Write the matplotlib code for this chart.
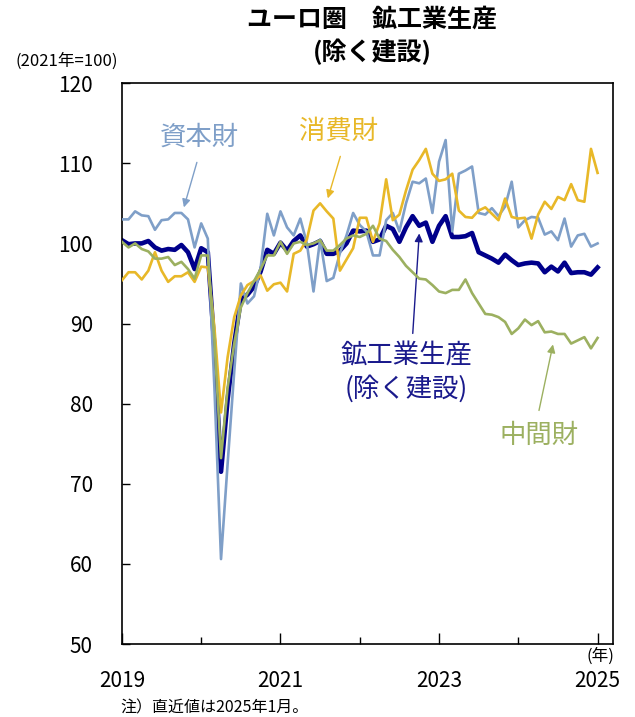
import matplotlib
matplotlib.use("Agg")
import matplotlib.pyplot as plt
import numpy as np

plt.rcParams['font.family'] = ['Noto Sans CJK JP', 'DejaVu Sans']

# 月次データ 2019年1月〜2025年1月 (2021年=100)
months = np.arange(73)

total = [100.4, 99.9, 100.0, 100.0, 100.3, 99.5, 99.1, 99.3, 99.2, 99.8, 98.9, 96.8,
         99.4, 98.9, 87.0, 71.5, 80.5, 87.5, 93.0, 93.6, 94.6, 96.5, 99.2, 98.7,
         100.1, 99.1, 100.3, 101.0, 99.6, 99.9, 100.3, 98.7, 98.7, 99.1, 100.0, 101.6,
         101.5, 101.6, 100.2, 100.5, 102.2, 101.8, 100.2, 102.0, 103.4, 102.2, 102.6, 100.2,
         102.2, 103.4, 100.8, 100.8, 100.9, 101.3, 98.9, 98.5, 98.1, 97.6, 98.6, 97.9,
         97.3, 97.5, 97.6, 97.5, 96.4, 97.1, 96.5, 97.6, 96.3, 96.4, 96.4, 96.1,
         97.0]

capital = [103.0, 103.0, 104.0, 103.5, 103.4, 101.7, 102.9, 103.0, 103.8, 103.8, 103.0, 99.5,
           102.5, 100.6, 82.0, 60.6, 72.5, 84.0, 95.0, 92.5, 93.4, 97.0, 103.7, 101.0,
           104.0, 102.0, 101.0, 103.1, 100.0, 94.0, 100.5, 95.3, 95.7, 98.8, 101.0, 103.8,
           102.3, 101.5, 98.5, 98.5, 102.9, 103.8, 101.5, 105.0, 107.7, 107.5, 108.1, 103.8,
           110.2, 112.9, 101.5, 108.7, 109.1, 109.6, 103.8, 103.6, 104.4, 103.4, 104.6, 107.7,
           102.0, 102.9, 103.3, 103.2, 101.1, 101.5, 100.4, 103.1, 99.6, 101.0, 101.2, 99.6,
           100.0]

consumer = [95.4, 96.4, 96.4, 95.5, 96.6, 98.9, 96.6, 95.2, 95.9, 95.9, 96.4, 95.2,
            97.1, 97.0, 89.5, 78.9, 85.8, 90.8, 93.5, 94.8, 95.3, 96.0, 94.1, 94.9,
            95.1, 94.0, 98.7, 99.1, 100.5, 104.1, 105.0, 104.0, 103.1, 96.6, 98.0, 99.4,
            103.2, 103.2, 100.2, 102.5, 108.0, 102.9, 103.6, 106.6, 109.2, 110.4, 111.8, 108.7,
            107.8, 108.0, 108.7, 104.1, 103.3, 103.2, 104.1, 104.5, 103.7, 102.9, 105.6, 103.3,
            103.1, 103.2, 100.6, 103.6, 105.2, 104.3, 105.8, 105.4, 107.4, 105.4, 105.2, 111.8,
            108.8]

intermediate = [100.2, 99.5, 100.0, 99.3, 99.0, 98.1, 98.1, 98.3, 97.3, 97.7, 96.8, 95.6,
                98.5, 98.5, 88.0, 73.2, 82.0, 87.5, 92.0, 93.8, 95.3, 96.8, 98.5, 98.5,
                100.2, 98.7, 100.0, 100.2, 99.8, 100.0, 100.4, 99.1, 99.1, 99.8, 100.6, 101.0,
                100.8, 101.2, 102.2, 100.6, 100.3, 99.2, 98.3, 97.2, 96.4, 95.6, 95.5, 94.8,
                94.0, 93.8, 94.2, 94.2, 95.5, 93.8, 92.5, 91.2, 91.1, 90.8, 90.2, 88.7,
                89.4, 90.5, 89.8, 90.3, 88.9, 89.0, 88.7, 88.7, 87.5, 87.9, 88.3, 86.9,
                88.2]

year_labels = ['2019', '2021', '2023', '2025']

c_total = '#00008B'
c_cap = '#7F9FC8'
c_con = '#E8B828'
c_int = '#9CB060'

fig = plt.figure(figsize=(6.35, 7.17), dpi=100)
ax = fig.add_axes([0.192, 0.1018, 0.773, 0.7822])

ax.plot(months, total, color=c_total, lw=3.3, zorder=2)
ax.plot(months, capital, color=c_cap, lw=1.9, zorder=3)
ax.plot(months, consumer, color=c_con, lw=1.9, zorder=3)
ax.plot(months, intermediate, color=c_int, lw=1.9, zorder=4)

ax.set_xlim(0, 74.3)
ax.set_ylim(50, 120)
ax.set_yticks(np.arange(50, 121, 10))
ax.set_xticks([0, 24, 48, 72])
ax.set_xticklabels(year_labels)
ax.set_xticks([12, 36, 60], minor=True)

ax.tick_params(axis='y', direction='in', length=6, width=1, pad=21, labelsize=15)
ax.tick_params(axis='x', which='major', direction='in', length=8, width=1, pad=19, labelsize=15)
ax.tick_params(axis='x', which='minor', direction='in', length=5, width=1)
for s in ax.spines.values():
    s.set_linewidth(1.2)
    s.set_color('black')

# タイトル等
fig.text(372 / 635, 1 - 20 / 717, 'ユーロ圏　鉱工業生産', ha='center', va='center',
         fontsize=18, fontweight='bold')
fig.text(372 / 635, 1 - 52 / 717, '(除く建設)', ha='center', va='center',
         fontsize=18, fontweight='bold')
fig.text(67 / 635, 1 - 61 / 717, '(2021年=100)', ha='center', va='center', fontsize=12)
fig.text(600 / 635, 1 - 656 / 717, '(年)', ha='center', va='center', fontsize=12)
fig.text(120 / 635, 1 - 708 / 717, '注）直近値は2025年1月。', ha='left', va='center', fontsize=11.5)


def px2data(px, py):
    return (px - 122) / 6.61, 100 + (243 - py) / 8.01


def label(px, py, s, color):
    x, y = px2data(px, py)
    ax.text(x, y, s, color=color, fontsize=19, ha='center', va='center')


def arrow(p0, p1, color):
    ax.annotate('', xy=px2data(*p1), xytext=px2data(*p0),
                arrowprops=dict(arrowstyle='-|>', color=color, lw=1.0, mutation_scale=12,
                                shrinkA=0, shrinkB=0))


label(199, 137, '資本財', c_cap)
arrow((197, 162), (184, 207), c_cap)
label(339, 131, '消費財', c_con)
arrow((340.5, 156), (328, 198), c_con)
label(406.7, 355.5, '鉱工業生産', '#1A1A8C')
label(406.7, 388, '(除く建設)', '#1A1A8C')
arrow((413, 333), (419.5, 233), '#1A1A8C')
label(539, 435, '中間財', c_int)
arrow((539.3, 410), (553.3, 344), c_int)

plt.savefig('out.png', dpi=100)
